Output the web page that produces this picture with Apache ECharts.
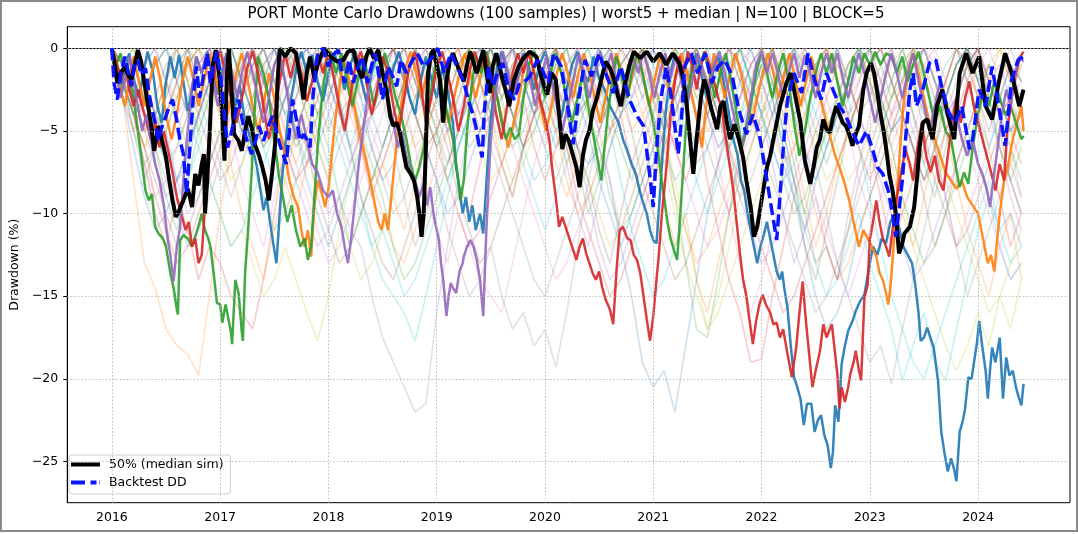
<!DOCTYPE html>
<html>
<head>
<meta charset="utf-8">
<script src="https://cdn.jsdelivr.net/npm/echarts@6/dist/echarts.min.js"></script>
<style>
html,body{margin:0;padding:0;background:#fff;}
#wrap{position:relative;width:1078px;height:534px;}
#chart{position:absolute;left:0;top:0;width:1078px;height:534px;}
#frame{position:absolute;left:0;top:0;width:1078px;height:532px;box-sizing:border-box;border:2px solid #8a8a8a;pointer-events:none;}
</style>
</head>
<body>
<div id="wrap"><div id="chart"></div><div id="frame"></div></div>
<script>
// ---------- axis ticks ----------
const yearTicks = [2016, 2017, 2018, 2019, 2020, 2021, 2022, 2023, 2024];
const ddTicks = [0, -5, -10, -15, -20, -25];

// ---------- faint sample paths (every 0.1 year from 2016.0 to 2024.4) ----------
const sampleTimes = [];
for (let i = 0; i <= 84; i++) sampleTimes.push(+(2016 + i * 0.1).toFixed(2));

const faint0 = [0,-2,-4,-3,-6,-5,-8,-7,-4,-2, -1,-3,-5,-4,-2,0,-2,-5,-7,-6, -4,-2,0,-3,-6,-8,-7,-5,-3,-1, 0,-2,-4,-6,-5,-3,-1,0,-2,-4, -3,-5,-4,-6,-7,-6,-8,-12,-15,-19, -20.5,-19.5,-22,-18,-14,-10,-7,-4,-2,0, -2,-4,-7,-9,-11,-8,-6,-4,-2,-1, 0,-3,-5,-4,-6,-8,-6,-3,-1,0, -2,-4,-3,-5,-4];
const faint1 = [0,-3,-8,-13,-14.5,-17,-18,-18.5,-19.8,-15, -10,-6,-3,-1,-3,-6,-8,-10,-7,-4, -2,0,-2,-5,-8,-7,-9,-11,-8,-5, -3,-1,0,-3,-5,-4,-7,-9,-6,-3, -1,-3,-6,-8,-5,-3,-1,-3,-5,-4, -6,-9,-12,-10,-14,-16,-13,-10,-7,-4, -2,0,-3,-6,-9,-12,-10,-7,-5,-3, -1,-4,-7,-10,-12,-9,-6,-3,-1,0, -3,-6,-9,-7,-5];
const faint2 = [0,-2,-5,-7,-6,-9,-11,-8,-5,-3, -1,0,-2,-4,-6,-5,-3,-1,-2,-4, -6,-9,-12,-10,-8,-6,-4,-2,0,-3, -5,-8,-6,-4,-2,-1,-3,-6,-5,-3, -1,0,-3,-7,-10,-8,-6,-4,-2,0, -2,-5,-9,-13,-17,-17.5,-14,-10,-6,-3, -1,-3,-6,-8,-10,-7,-5,-3,-1,0, -2,-5,-3,-1,-4,-7,-9,-6,-3,-1, 0,-3,-6,-8,-6];
const faint3 = [0,-2,-4,-7,-10,-12,-9,-11,-14,-12, -13,-15,-16,-17,-14,-10,-6,-3,-1,0, -2,-4,-3,-6,-9,-7,-5,-3,-1,0, -2,-5,-8,-10,-7,-4,-2,0,-3,-6, -8,-6,-4,-2,-1,-3,-5,-4,-7,-9, -7,-5,-3,-1,-4,-8,-11,-14,-16,-19, -18.8,-15,-12,-9,-7,-5,-3,-1,-2,-4, -6,-9,-12,-10,-8,-6,-4,-2,0,-2, -4,-7,-9,-12,-10];
const faint4 = [0,-1,-3,-5,-7,-9,-8,-6,-4,-2, -1,-3,-5,-4,-2,0,-2,-4,-6,-8, -10,-9,-11,-12,-15,-17.5,-19,-20.5,-22,-21.5, -16,-12,-8,-5,-3,-1,0,-2,-4,-3, -1,-4,-7,-10,-12,-9,-6,-4,-2,0, -2,-4,-3,-5,-7,-6,-4,-2,0,-2, -4,-7,-10,-13,-11,-9,-12,-14,-10,-7, -4,-2,0,-3,-5,-7,-5,-3,-1,0, -2,-4,-6,-9,-11];
const faint5 = [0,-2,-4,-6,-8,-10,-12,-11,-9,-7, -5,-3,-1,0,-2,-4,-6,-5,-3,-1, 0,-3,-6,-9,-11,-13,-14,-12,-10,-7, -5,-3,-1,0,-2,-5,-7,-9,-6,-4, -2,0,-3,-6,-8,-11,-13,-10,-7,-5, -3,-1,0,-2,-4,-6,-8,-10,-8,-6, -4,-2,-5,-8,-12,-14,-11,-8,-5,-3, -1,0,-2,-4,-6,-9,-12,-10,-7,-5, -3,-1,-3,-5,-7];
const faint6 = [0,-1,-3,-2,-4,-6,-5,-3,-1,0, -2,-5,-8,-10,-12,-9,-6,-3,-1,0, -2,-4,-6,-5,-3,-1,0,-3,-6,-9, -11,-13,-10,-12,-14,-15,-16,-13,-10,-7, -5,-3,-1,0,-2,-5,-8,-11,-9,-7, -5,-3,-1,0,-2,-4,-7,-10,-13,-16, -14,-11,-8,-6,-4,-2,0,-2,-5,-8, -10,-12,-9,-7,-5,-3,-6,-9,-12,-10, -8,-6,-4,-6,-9];
const faint7 = [0,-2,-5,-8,-6,-4,-2,0,-3,-5, -7,-9,-7,-5,-3,-1,0,-2,-4,-6, -8,-6,-4,-2,0,-3,-6,-9,-12,-10, -8,-11,-13,-15,-14,-12,-15,-17,-16,-18, -17,-19.3,-16,-12,-8,-5,-3,-1,0,-2, -4,-7,-5,-3,-1,0,-3,-6,-9,-8, -6,-4,-2,0,-3,-7,-10,-13,-15,-17, -19,-18,-20.3,-17,-14,-11,-8,-5,-3,-1, 0,-3,-6,-8,-10];
const faint8 = [0,-1,-3,-5,-4,-2,0,-2,-5,-8, -10,-12,-11,-13,-15,-14,-12,-14,-16,-17.7, -15,-11,-8,-5,-3,-1,0,-2,-4,-6, -5,-3,-1,0,-2,-4,-6,-8,-7,-5, -3,-1,0,-2,-4,-6,-5,-3,-1,0, -2,-5,-8,-11,-14,-17,-15,-12,-9,-6, -4,-2,0,-2,-4,-6,-8,-7,-5,-3, -1,-3,-6,-9,-12,-14,-16,-18,-19.5,-18, -16,-18,-15,-17,-14];
const faint9 = [0,-2,-4,-3,-5,-7,-9,-8,-6,-4, -2,0,-2,-4,-6,-8,-7,-5,-3,-1, 0,-3,-6,-9,-12,-14,-15,-16,-17.7,-15, -12,-9,-6,-4,-2,0,-2,-4,-7,-9, -11,-9,-7,-5,-3,-1,0,-2,-4,-3, -1,0,-3,-6,-8,-10,-8,-6,-4,-2, 0,-2,-5,-8,-11,-13,-15,-14,-12,-10, -13,-15,-17,-20.1,-18,-16,-19,-20.1,-17,-14, -11,-9,-12,-14,-13];
const faint10 = [0,-3,-6,-9,-11,-10,-8,-6,-4,-2, 0,-2,-4,-3,-1,0,-2,-5,-8,-10, -12,-10,-8,-6,-4,-2,0,-2,-4,-6, -8,-10,-9,-7,-5,-3,-1,0,-2,-4, -3,-1,0,-3,-5,-8,-10,-12,-10,-8, -6,-4,-2,0,-2,-4,-6,-5,-3,-1, 0,-3,-6,-9,-12,-15,-17,-16,-14,-11, -9,-7,-5,-3,-1,0,-2,-4,-3,-5, -7,-9,-11,-10,-12];
const faint11 = [0,-1,-2,-4,-6,-5,-3,-1,0,-2, -4,-7,-10,-12,-14,-11,-8,-5,-3,-1, 0,-2,-4,-6,-8,-10,-12,-13,-11,-9, -7,-5,-3,-1,0,-2,-4,-3,-1,0, -2,-5,-8,-10,-9,-7,-5,-3,-1,0, -3,-6,-9,-11,-13,-12,-10,-8,-6,-4, -2,0,-2,-4,-7,-10,-12,-14,-13,-11, -9,-7,-5,-3,-1,0,-2,-5,-8,-11, -13,-15,-12,-10,-14];
const faint12 = [0,-2,-1,-3,-5,-7,-6,-4,-2,0, -1,-3,-5,-7,-9,-11,-10,-8,-6,-4, -2,0,-2,-5,-7,-9,-12,-14,-13,-11, -9,-7,-5,-3,-1,0,-2,-4,-6,-5, -3,-1,0,-2,-4,-6,-9,-11,-10,-8, -6,-4,-2,0,-2,-4,-3,-1,0,-2, -4,-6,-8,-10,-9,-7,-5,-3,-1,0, -2,-4,-6,-9,-11,-13,-12,-10,-8,-6, -4,-2,-4,-6,-8];
const faint13 = [0,-2,-4,-6,-9,-11,-13,-12,-10,-8, -6,-4,-2,0,-2,-4,-6,-8,-7,-5, -3,-1,0,-2,-4,-3,-1,0,-2,-4, -6,-8,-10,-12,-11,-9,-7,-5,-3,-1, 0,-3,-6,-9,-11,-13,-15,-14,-12,-10, -8,-6,-4,-2,0,-2,-4,-6,-8,-10, -12,-14,-16,-15,-13,-11,-9,-7,-5,-3, -1,0,-2,-4,-6,-8,-7,-5,-3,-1, 0,-2,-4,-3,-5];
const faint14 = [0,-1,-3,-2,-4,-6,-8,-10,-9,-7, -5,-3,-1,0,-2,-4,-6,-8,-10,-12, -11,-9,-7,-5,-3,-1,0,-2,-4,-6, -8,-7,-5,-3,-1,0,-2,-4,-3,-1, 0,-2,-4,-6,-9,-12,-14,-13,-11,-9, -7,-5,-3,-1,0,-2,-4,-7,-9,-11, -13,-12,-10,-8,-6,-4,-2,0,-2,-4, -6,-8,-10,-12,-14,-13,-11,-9,-7,-5, -3,-1,-3,-5,-4];
const faint15 = [0,-2,-3,-5,-4,-2,0,-2,-4,-6, -8,-7,-5,-3,-1,0,-2,-4,-6,-9, -11,-13,-12,-10,-8,-6,-4,-2,0,-2, -4,-6,-9,-11,-13,-12,-10,-8,-6,-4, -2,0,-2,-4,-3,-1,0,-2,-5,-8, -10,-12,-14,-13,-11,-9,-7,-5,-3,-1, 0,-2,-4,-7,-10,-13,-12,-14,-11,-8, -6,-4,-2,0,-2,-5,-8,-10,-12,-11, -9,-7,-5,-8,-10];
const faint16 = [0,-2,-4,-7,-9,-8,-6,-4,-2,0, -2,-4,-3,-1,0,-2,-5,-7,-9,-11, -13,-12,-10,-8,-6,-4,-2,0,-2,-4, -6,-5,-3,-1,0,-2,-4,-6,-8,-10, -12,-14,-13,-11,-9,-7,-5,-3,-1,0, -2,-4,-6,-8,-10,-12,-11,-9,-7,-5, -3,-1,0,-3,-6,-9,-11,-13,-15,-13, -11,-9,-7,-5,-3,-1,0,-2,-4,-6, -8,-10,-12,-14,-13];
const faint17 = [0,-1,-2,-4,-6,-8,-10,-12,-11,-9, -7,-5,-3,-1,0,-2,-4,-6,-5,-3, -1,0,-2,-4,-6,-8,-10,-9,-7,-5, -3,-1,0,-2,-4,-6,-8,-10,-12,-14, -15,-13,-11,-9,-7,-5,-3,-1,0,-2, -4,-6,-8,-7,-5,-3,-1,0,-2,-4, -6,-8,-10,-12,-14,-16,-15,-13,-11,-9, -7,-5,-3,-1,0,-3,-6,-9,-12,-15, -13,-11,-9,-7,-9];
const faint18 = [0,-2,-4,-6,-5,-3,-1,0,-2,-4, -6,-8,-7,-5,-3,-1,0,-2,-4,-6, -8,-10,-12,-14,-13,-11,-9,-7,-5,-3, -1,0,-2,-4,-6,-8,-7,-5,-3,-1, 0,-2,-4,-6,-8,-10,-12,-11,-9,-7, -5,-7,-10,-13,-15,-17,-16,-14,-12,-10, -8,-6,-4,-2,0,-2,-4,-6,-8,-7, -5,-3,-1,0,-2,-4,-6,-8,-10,-12, -14,-16,-15,-13,-11];
const faint19 = [0,-2,-4,-3,-1,0,-2,-4,-6,-8, -10,-12,-11,-9,-7,-5,-3,-1,0,-2, -4,-6,-8,-10,-12,-11,-13,-15,-14,-12, -10,-8,-6,-4,-2,0,-2,-4,-6,-8, -7,-5,-3,-1,0,-2,-5,-8,-11,-13, -15,-14,-12,-10,-8,-6,-4,-2,0,-2, -4,-6,-8,-7,-5,-3,-1,0,-3,-6, -9,-12,-15,-17,-19,-20,-18,-16,-14,-12, -10,-8,-11,-13,-12];
const faint20 = [0,-1,-3,-2,-4,-3,-1,0,-2,-3, -1,0,-2,-4,-3,-5,-3,-1,0,-2, -3,-1,0,-2,-4,-6,-4,-2,0,-1, -3,-5,-4,-2,0,-1,-3,-2,0,-2, -4,-6,-5,-3,-1,0,-2,-4,-3,-1, 0,-2,-3,-1,0,-2,-4,-6,-5,-3, -1,0,-2,-4,-6,-8,-6,-4,-2,0, -1,-3,-5,-4,-2,0,-2,-3,-1,0, -2,-4,-3,-1,-2];
const faint21 = [0,-2,-4,-6,-4,-2,-3,-1,0,-2, -4,-3,-1,0,-1,-3,-5,-7,-5,-3, -1,0,-2,-3,-1,0,-2,-4,-6,-5, -3,-1,0,-2,-4,-3,-1,0,-1,-3, -5,-7,-9,-7,-5,-3,-1,0,-2,-4, -3,-1,0,-1,-3,-5,-4,-2,0,-1, -3,-5,-7,-6,-4,-2,0,-1,-3,-2, 0,-2,-4,-6,-8,-6,-4,-2,0,-1, -3,-2,0,-2,-4];
const faint22 = [0,-1,0,-2,-4,-5,-3,-1,0,-1, -3,-2,0,-2,-3,-1,0,-1,-3,-5, -7,-5,-3,-1,0,-2,-1,0,-2,-4, -6,-4,-2,0,-1,-3,-5,-3,-1,0, -2,-4,-3,-1,0,-2,-4,-6,-8,-6, -4,-2,0,-1,-3,-2,0,-2,-4,-3, -1,0,-2,-4,-3,-5,-7,-5,-3,-1, 0,-1,-3,-2,0,-2,-4,-3,-1,0, -2,-1,-3,-5,-3];
const faint23 = [0,-3,-5,-3,-1,0,-2,-4,-3,-1, 0,-2,-4,-6,-5,-3,-1,0,-2,-1, 0,-1,-3,-5,-4,-2,0,-1,-3,-2, 0,-2,-4,-3,-1,0,-2,-4,-6,-4, -2,0,-1,-3,-2,0,-2,-3,-1,0, -2,-4,-6,-8,-6,-4,-2,0,-1,-3, -2,0,-2,-4,-3,-1,0,-2,-4,-6, -8,-6,-4,-2,0,-1,-3,-5,-4,-2, 0,-2,-4,-3,-1];
const faint24 = [0,-1,-2,-1,0,-2,-4,-3,-1,0, -1,-3,-2,0,-2,-4,-3,-1,0,-1, -3,-5,-7,-5,-3,-1,0,-2,-4,-3, -1,0,-1,-3,-5,-4,-2,0,-1,-2, 0,-2,-4,-6,-4,-2,0,-1,-3,-2, 0,-2,-3,-1,0,-2,-4,-3,-1,0, -2,-4,-3,-1,0,-1,-3,-5,-4,-2, 0,-2,-4,-3,-1,0,-2,-4,-3,-1, 0,-2,-1,-3,-2];
const faint25 = [0,-2,-1,-3,-5,-4,-2,0,-1,-3, -2,0,-2,-4,-6,-4,-2,0,-1,-3, -5,-3,-1,0,-2,-1,0,-2,-4,-6, -5,-3,-1,0,-2,-4,-3,-1,0,-2, -1,0,-2,-4,-3,-5,-3,-1,0,-1, -3,-5,-4,-2,0,-2,-1,0,-2,-4, -6,-4,-2,0,-1,-3,-2,0,-2,-4, -3,-1,0,-2,-4,-6,-4,-2,0,-1, -3,-5,-3,-1,-2];
const faint26 = [0,-1,-3,-5,-3,-1,0,-2,-1,0, -2,-4,-3,-1,0,-2,-4,-2,0,-1, -2,0,-1,-3,-5,-7,-5,-3,-1,0, -2,-1,0,-2,-4,-3,-1,0,-2,-4, -6,-4,-2,0,-1,-3,-2,0,-1,-3, -5,-3,-1,0,-2,-4,-6,-5,-3,-1, 0,-1,-3,-2,0,-2,-4,-3,-1,0, -2,-4,-6,-4,-2,0,-1,-3,-5,-3, -1,0,-2,-1,-3];
const faint27 = [0,-2,-3,-1,0,-2,-4,-6,-4,-2, 0,-1,-3,-2,0,-2,-1,0,-2,-4, -3,-1,0,-2,-4,-3,-1,0,-1,-3, -5,-7,-5,-3,-1,0,-2,-1,0,-2, -4,-3,-1,0,-2,-4,-2,0,-1,-3, -2,0,-2,-4,-6,-4,-2,0,-1,-3, -5,-3,-1,0,-2,-1,0,-2,-4,-3, -1,0,-2,-4,-6,-8,-6,-4,-2,0, -1,-3,-2,0,-2];
const faint28 = [0,-1,0,-2,-3,-1,0,-2,-4,-3, -1,0,-2,-1,0,-2,-4,-6,-4,-2, 0,-2,-3,-1,0,-1,-3,-5,-3,-1, 0,-2,-1,0,-2,-4,-3,-1,0,-1, -3,-5,-7,-5,-3,-1,0,-2,-1,0, -2,-4,-3,-1,0,-2,-4,-6,-4,-2, 0,-1,-3,-5,-3,-1,0,-2,-1,0, -2,-4,-3,-1,0,-2,-3,-5,-7,-5, -3,-1,0,-2,-3];
const faint29 = [0,-2,-4,-3,-1,0,-1,-3,-5,-3, -1,0,-2,-1,0,-2,-4,-3,-1,0, -2,-4,-6,-4,-2,0,-1,-3,-2,0, -2,-4,-3,-1,0,-2,-1,0,-2,-4, -6,-8,-6,-4,-2,0,-1,-3,-2,0, -1,-3,-5,-3,-1,0,-2,-1,0,-2, -4,-3,-1,0,-2,-4,-6,-4,-2,0, -1,-3,-2,0,-2,-4,-3,-1,0,-2, -4,-6,-4,-2,-1];

const faintSeries = [faint0,faint1,faint2,faint3,faint4,faint5,faint6,faint7,faint8,faint9,
                     faint10,faint11,faint12,faint13,faint14,faint15,faint16,faint17,faint18,faint19,
                     faint20,faint21,faint22,faint23,faint24,faint25,faint26,faint27,faint28,faint29];

// ---------- worst-5 paths [year, drawdown %] ----------
const worstBlue = [[2016.00,0],[2016.04,-1.0],[2016.08,-2.5],[2016.12,-1.2],[2016.16,-0.3],[2016.20,-1.8],[2016.25,-3.0],[2016.29,-1.5],[2016.33,-0.2],[2016.38,-1.5],[2016.42,-3.5],[2016.46,-4.5],[2016.50,-2.0],[2016.54,-0.5],[2016.58,-1.8],[2016.62,-0.4],[2016.66,-2.0],[2016.70,-3.8],[2016.74,-2.5],[2016.78,-0.5],[2016.83,-1.5],[2016.88,-0.2],[2016.93,-1.2],[2016.98,-2.8],[2017.02,-1.5],[2017.06,-0.3],[2017.10,-2.0],[2017.14,-3.5],[2017.18,-2.2],[2017.22,-4.0],[2017.26,-5.0],[2017.30,-6.0],[2017.34,-7.2],[2017.37,-8.5],[2017.40,-9.8],[2017.43,-9.0],[2017.46,-10.5],[2017.49,-11.8],[2017.52,-13.0],[2017.54,-11.0],[2017.57,-8.0],[2017.60,-6.0],[2017.63,-4.0],[2017.67,-2.5],[2017.71,-1.0],[2017.75,-0.2],[2017.80,-1.5],[2017.85,-0.4],[2017.90,-2.0],[2017.95,-3.2],[2018.00,-1.5],[2018.05,-0.3],[2018.10,-1.2],[2018.15,-2.5],[2018.20,-1.0],[2018.25,-0.2],[2018.30,-1.8],[2018.35,-3.2],[2018.40,-1.5],[2018.45,-0.3],[2018.50,-1.4],[2018.55,-2.8],[2018.60,-1.2],[2018.65,-0.2],[2018.70,-1.5],[2018.75,-3.0],[2018.80,-4.0],[2018.85,-2.0],[2018.90,-0.5],[2018.95,-1.8],[2019.00,-3.0],[2019.05,-1.2],[2019.10,-2.5],[2019.15,-4.5],[2019.18,-7.2],[2019.21,-8.5],[2019.24,-10.0],[2019.27,-9.0],[2019.30,-10.5],[2019.33,-9.5],[2019.36,-11.0],[2019.40,-10.0],[2019.43,-11.2],[2019.46,-8.0],[2019.49,-5.0],[2019.52,-3.0],[2019.56,-1.0],[2019.60,-0.2],[2019.65,-1.5],[2019.70,-3.0],[2019.75,-1.5],[2019.80,-0.3],[2019.85,-1.2],[2019.90,-2.5],[2019.95,-1.0],[2020.00,-0.2],[2020.05,-1.5],[2020.10,-3.0],[2020.15,-4.2],[2020.20,-2.5],[2020.25,-1.0],[2020.30,-0.2],[2020.35,-1.5],[2020.40,-2.0],[2020.45,-0.5],[2020.50,-1.8],[2020.55,-2.5],[2020.60,-3.5],[2020.64,-4.0],[2020.68,-4.5],[2020.72,-5.5],[2020.76,-6.2],[2020.80,-7.0],[2020.84,-7.6],[2020.87,-8.5],[2020.90,-9.2],[2020.94,-10.0],[2020.97,-11.0],[2021.00,-11.6],[2021.03,-11.8],[2021.06,-9.0],[2021.09,-6.0],[2021.12,-3.5],[2021.16,-1.5],[2021.20,-0.3],[2021.25,-1.5],[2021.30,-3.0],[2021.35,-1.5],[2021.40,-0.3],[2021.45,-1.8],[2021.50,-3.2],[2021.55,-1.5],[2021.60,-0.5],[2021.65,-2.0],[2021.70,-4.0],[2021.74,-5.5],[2021.78,-6.5],[2021.81,-8.0],[2021.84,-8.6],[2021.87,-10.0],[2021.90,-11.0],[2021.93,-12.0],[2021.96,-13.0],[2021.99,-12.0],[2022.02,-11.3],[2022.05,-10.5],[2022.08,-11.5],[2022.11,-12.5],[2022.14,-13.5],[2022.17,-14.0],[2022.19,-13.5],[2022.21,-14.5],[2022.24,-15.7],[2022.27,-18.0],[2022.30,-19.9],[2022.33,-20.5],[2022.36,-21.2],[2022.39,-22.8],[2022.42,-21.5],[2022.46,-21.5],[2022.49,-23.2],[2022.52,-22.5],[2022.55,-22.2],[2022.58,-23.4],[2022.61,-24.0],[2022.64,-25.4],[2022.66,-24.4],[2022.68,-21.6],[2022.71,-22.6],[2022.74,-19.1],[2022.77,-18.0],[2022.80,-17.1],[2022.84,-16.5],[2022.87,-15.9],[2022.91,-15.3],[2022.95,-14.9],[2023.00,-13.0],[2023.03,-12.0],[2023.07,-12.5],[2023.11,-11.5],[2023.15,-11.8],[2023.19,-10.5],[2023.23,-10.0],[2023.27,-10.8],[2023.31,-12.0],[2023.35,-12.5],[2023.39,-13.0],[2023.42,-14.3],[2023.45,-16.0],[2023.47,-17.7],[2023.50,-17.5],[2023.53,-16.9],[2023.56,-17.5],[2023.59,-18.1],[2023.63,-20.1],[2023.66,-23.2],[2023.69,-24.5],[2023.72,-25.6],[2023.75,-24.8],[2023.78,-25.5],[2023.80,-26.2],[2023.83,-23.2],[2023.86,-22.5],[2023.88,-21.8],[2023.91,-19.9],[2023.94,-20.0],[2023.96,-19.1],[2023.99,-17.8],[2024.01,-16.5],[2024.04,-18.1],[2024.07,-19.5],[2024.09,-21.2],[2024.11,-19.5],[2024.13,-18.1],[2024.16,-19.0],[2024.20,-17.5],[2024.23,-21.2],[2024.26,-18.7],[2024.29,-19.8],[2024.32,-19.5],[2024.35,-20.5],[2024.37,-21.0],[2024.40,-21.6],[2024.42,-20.3]];

const worstOrange = [[2016.00,0],[2016.04,-1.2],[2016.08,-2.5],[2016.12,-3.5],[2016.16,-2.0],[2016.20,-0.5],[2016.25,-2.0],[2016.30,-3.5],[2016.35,-2.0],[2016.40,-0.5],[2016.45,-2.0],[2016.50,-4.0],[2016.55,-5.5],[2016.60,-4.0],[2016.65,-2.0],[2016.70,-0.5],[2016.75,-1.8],[2016.80,-3.5],[2016.85,-2.0],[2016.90,-0.3],[2016.95,-1.5],[2017.00,-3.0],[2017.05,-4.5],[2017.10,-3.0],[2017.15,-1.5],[2017.20,-0.3],[2017.25,-1.8],[2017.30,-3.5],[2017.35,-5.0],[2017.40,-3.5],[2017.45,-1.5],[2017.50,-3.0],[2017.55,-5.0],[2017.60,-6.5],[2017.64,-8.0],[2017.68,-9.0],[2017.72,-9.6],[2017.75,-11.0],[2017.78,-12.0],[2017.81,-11.0],[2017.84,-12.6],[2017.87,-9.5],[2017.90,-8.0],[2017.94,-8.8],[2017.97,-9.6],[2018.00,-8.5],[2018.03,-6.5],[2018.06,-4.5],[2018.10,-2.5],[2018.14,-0.5],[2018.19,-2.0],[2018.24,-3.5],[2018.28,-5.0],[2018.32,-6.0],[2018.36,-7.2],[2018.40,-8.5],[2018.43,-9.5],[2018.46,-10.5],[2018.49,-11.0],[2018.52,-10.0],[2018.55,-11.0],[2018.58,-9.0],[2018.61,-7.0],[2018.64,-5.0],[2018.68,-3.0],[2018.72,-1.0],[2018.76,-0.2],[2018.81,-1.5],[2018.86,-3.0],[2018.91,-1.5],[2018.96,-0.3],[2019.01,-1.5],[2019.06,-3.0],[2019.11,-4.5],[2019.16,-3.0],[2019.21,-1.5],[2019.26,-0.3],[2019.31,-1.5],[2019.36,-3.0],[2019.41,-1.5],[2019.46,-0.2],[2019.51,-1.5],[2019.56,-3.0],[2019.61,-4.5],[2019.66,-6.0],[2019.71,-4.5],[2019.76,-3.0],[2019.81,-1.0],[2019.86,-0.2],[2019.91,-1.8],[2019.96,-3.5],[2020.01,-5.0],[2020.06,-3.5],[2020.11,-1.5],[2020.16,-0.3],[2020.21,-1.5],[2020.26,-3.0],[2020.31,-1.5],[2020.36,-0.3],[2020.41,-1.5],[2020.46,-3.0],[2020.51,-4.5],[2020.56,-3.0],[2020.61,-1.5],[2020.66,-0.3],[2020.71,-1.5],[2020.76,-3.0],[2020.81,-1.5],[2020.86,-0.3],[2020.91,-1.8],[2020.96,-3.5],[2021.01,-2.0],[2021.06,-0.5],[2021.11,-1.5],[2021.16,-3.0],[2021.21,-1.5],[2021.26,-0.3],[2021.31,-1.5],[2021.36,-3.0],[2021.41,-4.5],[2021.45,-6.0],[2021.48,-4.0],[2021.52,-2.0],[2021.56,-0.3],[2021.61,-1.5],[2021.66,-3.0],[2021.71,-1.5],[2021.76,-0.3],[2021.81,-1.5],[2021.86,-3.0],[2021.91,-4.5],[2021.96,-3.0],[2022.01,-1.5],[2022.06,-0.3],[2022.11,-1.5],[2022.16,-3.0],[2022.21,-1.5],[2022.26,-0.3],[2022.31,-1.8],[2022.36,-3.5],[2022.41,-2.0],[2022.46,-0.5],[2022.51,-2.0],[2022.56,-3.5],[2022.60,-4.5],[2022.64,-5.5],[2022.68,-6.5],[2022.72,-7.2],[2022.76,-8.0],[2022.81,-9.2],[2022.85,-10.5],[2022.90,-12.0],[2022.94,-11.0],[2022.98,-11.5],[2023.02,-12.0],[2023.06,-12.6],[2023.09,-13.6],[2023.12,-14.0],[2023.15,-14.8],[2023.17,-15.5],[2023.19,-14.5],[2023.22,-12.0],[2023.25,-9.0],[2023.28,-6.0],[2023.31,-3.5],[2023.35,-1.5],[2023.40,-0.3],[2023.45,-1.5],[2023.50,-3.0],[2023.55,-4.5],[2023.60,-5.5],[2023.65,-6.5],[2023.70,-7.5],[2023.75,-8.0],[2023.80,-8.5],[2023.85,-8.0],[2023.90,-9.0],[2023.95,-9.5],[2024.00,-10.0],[2024.03,-11.0],[2024.06,-12.0],[2024.09,-13.0],[2024.12,-12.5],[2024.15,-13.5],[2024.17,-12.0],[2024.20,-10.0],[2024.24,-8.0],[2024.28,-7.0],[2024.32,-5.5],[2024.36,-4.5],[2024.40,-3.5],[2024.42,-5.0]];

const worstGreen = [[2016.00,0],[2016.04,-1.0],[2016.08,-0.3],[2016.12,-1.5],[2016.16,-2.0],[2016.19,-2.5],[2016.22,-4.0],[2016.25,-5.5],[2016.28,-7.0],[2016.31,-8.6],[2016.34,-9.2],[2016.37,-8.8],[2016.40,-10.8],[2016.43,-11.2],[2016.47,-11.5],[2016.50,-12.0],[2016.52,-12.8],[2016.54,-13.6],[2016.57,-14.5],[2016.60,-15.8],[2016.61,-16.1],[2016.63,-11.6],[2016.66,-11.3],[2016.70,-11.5],[2016.74,-12.0],[2016.78,-11.2],[2016.81,-10.5],[2016.83,-10.0],[2016.86,-11.0],[2016.89,-11.5],[2016.91,-12.0],[2016.94,-13.6],[2016.97,-15.4],[2017.00,-15.5],[2017.02,-16.6],[2017.05,-15.5],[2017.08,-16.5],[2017.10,-17.2],[2017.11,-17.9],[2017.14,-14.0],[2017.17,-14.8],[2017.20,-17.2],[2017.21,-17.7],[2017.23,-13.6],[2017.26,-10.8],[2017.29,-7.6],[2017.32,-3.5],[2017.35,-0.5],[2017.40,-1.5],[2017.45,-3.0],[2017.50,-5.5],[2017.54,-7.6],[2017.58,-9.0],[2017.62,-10.5],[2017.66,-9.5],[2017.70,-11.0],[2017.74,-12.0],[2017.78,-11.5],[2017.81,-12.8],[2017.84,-12.0],[2017.87,-9.0],[2017.90,-6.0],[2017.94,-3.0],[2017.98,-1.0],[2018.02,-0.2],[2018.07,-1.5],[2018.12,-0.3],[2018.17,-2.0],[2018.22,-3.5],[2018.27,-2.0],[2018.32,-0.5],[2018.37,-1.8],[2018.42,-3.5],[2018.47,-2.0],[2018.52,-0.3],[2018.57,-1.5],[2018.62,-3.0],[2018.67,-4.0],[2018.72,-5.5],[2018.76,-7.0],[2018.80,-8.0],[2018.84,-7.2],[2018.88,-6.0],[2018.92,-4.0],[2018.96,-2.0],[2019.00,-0.5],[2019.05,-2.5],[2019.10,-4.0],[2019.15,-5.5],[2019.19,-7.5],[2019.22,-9.2],[2019.25,-8.0],[2019.28,-5.0],[2019.32,-2.5],[2019.36,-0.5],[2019.41,-1.5],[2019.46,-0.2],[2019.51,-1.8],[2019.56,-3.0],[2019.60,-4.5],[2019.64,-5.5],[2019.68,-4.8],[2019.72,-5.5],[2019.76,-5.2],[2019.80,-3.0],[2019.85,-1.0],[2019.90,-0.2],[2019.95,-1.5],[2020.00,-3.0],[2020.05,-1.5],[2020.10,-0.3],[2020.15,-1.5],[2020.20,-3.0],[2020.25,-4.5],[2020.30,-3.0],[2020.35,-1.5],[2020.40,-3.5],[2020.44,-5.0],[2020.48,-6.5],[2020.52,-8.0],[2020.55,-6.0],[2020.58,-4.0],[2020.62,-2.0],[2020.66,-0.5],[2020.71,-1.8],[2020.76,-3.0],[2020.80,-1.5],[2020.85,-0.3],[2020.90,-1.5],[2020.95,-3.0],[2021.00,-4.5],[2021.04,-6.0],[2021.07,-7.6],[2021.10,-9.0],[2021.13,-10.5],[2021.16,-11.5],[2021.19,-12.2],[2021.22,-12.8],[2021.24,-11.0],[2021.27,-8.0],[2021.30,-5.0],[2021.33,-2.5],[2021.37,-0.5],[2021.42,-1.5],[2021.47,-0.2],[2021.52,-1.5],[2021.57,-3.0],[2021.62,-1.5],[2021.67,-0.3],[2021.72,-2.0],[2021.77,-4.0],[2021.82,-6.0],[2021.86,-5.0],[2021.90,-3.5],[2021.95,-1.5],[2022.00,-0.3],[2022.05,-1.5],[2022.10,-3.0],[2022.15,-1.5],[2022.20,-0.3],[2022.25,-2.0],[2022.30,-4.5],[2022.35,-6.5],[2022.40,-5.0],[2022.45,-3.0],[2022.50,-1.5],[2022.55,-0.3],[2022.60,-1.5],[2022.65,-0.3],[2022.70,-2.0],[2022.75,-3.5],[2022.80,-2.0],[2022.85,-0.5],[2022.90,-1.5],[2022.95,-0.3],[2023.00,-1.0],[2023.05,-0.2],[2023.10,-1.0],[2023.15,-0.3],[2023.20,-0.5],[2023.25,-1.5],[2023.30,-0.5],[2023.35,-2.0],[2023.40,-1.0],[2023.45,-0.2],[2023.50,-1.5],[2023.55,-3.0],[2023.60,-4.5],[2023.65,-3.5],[2023.70,-5.0],[2023.75,-5.5],[2023.79,-7.0],[2023.83,-8.4],[2023.87,-7.5],[2023.91,-8.2],[2023.95,-6.0],[2024.00,-4.0],[2024.05,-2.5],[2024.10,-3.5],[2024.15,-2.0],[2024.20,-3.0],[2024.25,-4.0],[2024.30,-3.5],[2024.35,-4.5],[2024.40,-5.5],[2024.42,-5.3]];

const worstRed = [[2016.00,0],[2016.04,-0.8],[2016.08,-2.0],[2016.12,-1.0],[2016.16,-2.5],[2016.20,-3.5],[2016.24,-2.5],[2016.28,-3.5],[2016.32,-4.5],[2016.36,-5.5],[2016.40,-4.5],[2016.44,-6.0],[2016.48,-5.0],[2016.52,-6.2],[2016.56,-7.5],[2016.60,-9.0],[2016.64,-10.0],[2016.68,-11.0],[2016.71,-10.5],[2016.74,-12.0],[2016.77,-11.5],[2016.80,-13.0],[2016.83,-12.5],[2016.86,-9.5],[2016.89,-6.0],[2016.92,-3.0],[2016.96,-1.0],[2017.00,-0.2],[2017.05,-1.5],[2017.10,-3.0],[2017.15,-4.5],[2017.20,-3.0],[2017.25,-1.2],[2017.30,-0.2],[2017.35,-1.5],[2017.40,-3.5],[2017.45,-5.5],[2017.50,-4.0],[2017.55,-2.0],[2017.60,-0.3],[2017.65,-1.8],[2017.70,-0.4],[2017.75,-1.5],[2017.80,-3.2],[2017.85,-2.0],[2017.90,-0.3],[2017.95,-1.5],[2018.00,-0.2],[2018.05,-1.8],[2018.10,-3.5],[2018.15,-5.0],[2018.20,-3.0],[2018.25,-1.0],[2018.30,-0.2],[2018.35,-2.0],[2018.40,-4.0],[2018.45,-2.5],[2018.50,-0.5],[2018.55,-1.5],[2018.60,-3.5],[2018.65,-5.0],[2018.70,-3.0],[2018.75,-1.0],[2018.80,-0.2],[2018.85,-2.0],[2018.90,-4.5],[2018.95,-3.0],[2019.00,-1.2],[2019.05,-0.2],[2019.10,-1.5],[2019.15,-3.0],[2019.20,-5.0],[2019.25,-3.5],[2019.30,-1.5],[2019.35,-0.2],[2019.40,-1.2],[2019.45,-0.3],[2019.50,-2.0],[2019.55,-4.0],[2019.60,-5.5],[2019.65,-3.5],[2019.70,-1.5],[2019.75,-0.3],[2019.80,-1.5],[2019.85,-0.2],[2019.90,-1.5],[2019.95,-3.0],[2020.00,-4.2],[2020.04,-5.5],[2020.07,-7.5],[2020.10,-9.0],[2020.13,-10.8],[2020.16,-10.2],[2020.20,-11.0],[2020.23,-11.6],[2020.26,-12.2],[2020.29,-12.8],[2020.32,-12.0],[2020.35,-11.5],[2020.38,-12.4],[2020.41,-13.0],[2020.44,-13.6],[2020.47,-14.0],[2020.50,-13.5],[2020.53,-14.5],[2020.56,-15.2],[2020.60,-15.8],[2020.63,-16.7],[2020.66,-13.5],[2020.69,-11.0],[2020.72,-10.8],[2020.76,-11.5],[2020.79,-11.6],[2020.82,-12.5],[2020.85,-12.8],[2020.88,-13.6],[2020.91,-15.0],[2020.94,-16.4],[2020.97,-17.7],[2021.00,-16.2],[2021.03,-14.0],[2021.05,-12.6],[2021.08,-10.0],[2021.11,-8.0],[2021.13,-6.6],[2021.16,-4.0],[2021.20,-2.0],[2021.24,-0.5],[2021.28,-1.5],[2021.32,-0.2],[2021.36,-1.0],[2021.40,-2.5],[2021.44,-1.0],[2021.48,-0.2],[2021.52,-1.0],[2021.56,-2.0],[2021.60,-3.0],[2021.63,-3.5],[2021.66,-5.0],[2021.70,-6.8],[2021.74,-8.6],[2021.77,-10.5],[2021.80,-12.4],[2021.83,-14.0],[2021.86,-15.0],[2021.89,-16.5],[2021.92,-17.9],[2021.95,-16.5],[2021.98,-15.5],[2022.01,-14.9],[2022.04,-15.5],[2022.08,-16.0],[2022.11,-16.7],[2022.14,-16.6],[2022.17,-17.5],[2022.20,-17.0],[2022.24,-18.5],[2022.28,-19.9],[2022.32,-18.1],[2022.35,-16.0],[2022.38,-14.1],[2022.41,-16.5],[2022.44,-18.5],[2022.47,-20.5],[2022.50,-19.5],[2022.54,-18.3],[2022.57,-16.7],[2022.60,-17.5],[2022.63,-17.0],[2022.65,-16.7],[2022.68,-18.5],[2022.70,-19.7],[2022.72,-21.8],[2022.74,-20.5],[2022.77,-21.4],[2022.80,-20.5],[2022.82,-19.7],[2022.85,-19.0],[2022.87,-18.3],[2022.90,-19.5],[2022.92,-20.1],[2022.95,-15.1],[2022.98,-14.3],[2023.00,-11.6],[2023.03,-10.5],[2023.06,-9.2],[2023.09,-10.5],[2023.12,-11.5],[2023.15,-12.0],[2023.18,-12.6],[2023.21,-11.0],[2023.25,-9.0],[2023.29,-7.5],[2023.33,-6.1],[2023.37,-7.0],[2023.40,-8.0],[2023.44,-6.0],[2023.48,-4.5],[2023.52,-6.5],[2023.56,-7.5],[2023.60,-6.5],[2023.64,-8.0],[2023.68,-8.6],[2023.72,-6.5],[2023.76,-4.5],[2023.80,-3.0],[2023.84,-4.5],[2023.88,-3.0],[2023.92,-2.0],[2023.96,-3.5],[2024.00,-4.5],[2024.04,-5.5],[2024.08,-6.5],[2024.12,-7.5],[2024.16,-8.6],[2024.20,-7.0],[2024.24,-8.0],[2024.27,-5.0],[2024.31,-3.0],[2024.35,-1.5],[2024.39,-0.5],[2024.42,-0.2]];

const worstPurple = [[2016.00,0],[2016.04,-1.5],[2016.08,-3.0],[2016.12,-2.0],[2016.16,-0.5],[2016.20,-2.0],[2016.24,-3.5],[2016.28,-5.0],[2016.32,-4.0],[2016.36,-5.5],[2016.40,-7.0],[2016.44,-8.0],[2016.48,-9.5],[2016.51,-11.3],[2016.54,-12.5],[2016.57,-14.1],[2016.60,-12.0],[2016.63,-10.8],[2016.66,-8.0],[2016.70,-5.0],[2016.74,-2.5],[2016.78,-0.5],[2016.83,-1.5],[2016.88,-0.3],[2016.93,-1.8],[2016.98,-3.5],[2017.02,-2.0],[2017.06,-0.3],[2017.11,-1.5],[2017.16,-3.0],[2017.20,-1.5],[2017.25,-0.2],[2017.30,-1.5],[2017.35,-3.0],[2017.40,-4.5],[2017.45,-3.0],[2017.50,-1.0],[2017.55,-0.2],[2017.60,-2.0],[2017.65,-4.0],[2017.70,-5.5],[2017.75,-4.0],[2017.80,-5.5],[2017.85,-7.0],[2017.90,-7.5],[2017.95,-8.6],[2018.00,-9.0],[2018.04,-8.6],[2018.08,-10.0],[2018.12,-10.8],[2018.15,-12.0],[2018.18,-13.0],[2018.21,-11.5],[2018.24,-9.6],[2018.28,-7.0],[2018.32,-5.0],[2018.36,-3.0],[2018.40,-1.0],[2018.45,-0.2],[2018.50,-1.5],[2018.55,-3.0],[2018.60,-4.5],[2018.64,-6.0],[2018.68,-5.0],[2018.72,-6.5],[2018.76,-7.5],[2018.80,-8.0],[2018.84,-9.0],[2018.88,-8.2],[2018.91,-9.5],[2018.94,-8.4],[2018.97,-10.0],[2019.00,-11.0],[2019.02,-11.6],[2019.04,-13.0],[2019.06,-14.0],[2019.08,-15.5],[2019.09,-16.2],[2019.11,-15.0],[2019.13,-14.2],[2019.15,-14.5],[2019.18,-14.8],[2019.21,-13.5],[2019.24,-13.0],[2019.25,-12.6],[2019.28,-12.0],[2019.31,-11.6],[2019.34,-12.0],[2019.37,-12.8],[2019.40,-14.0],[2019.42,-15.5],[2019.43,-16.2],[2019.45,-12.5],[2019.46,-10.8],[2019.48,-8.0],[2019.50,-5.5],[2019.53,-3.5],[2019.57,-1.5],[2019.61,-0.2],[2019.66,-1.5],[2019.71,-3.0],[2019.76,-1.5],[2019.81,-0.3],[2019.86,-1.8],[2019.91,-3.5],[2019.96,-2.0],[2020.01,-0.5],[2020.06,-2.0],[2020.11,-3.5],[2020.16,-5.0],[2020.21,-3.5],[2020.26,-2.0],[2020.31,-0.3],[2020.36,-1.5],[2020.41,-3.0],[2020.46,-1.5],[2020.51,-0.2],[2020.56,-1.5],[2020.61,-0.3],[2020.66,-2.0],[2020.71,-3.5],[2020.76,-2.0],[2020.81,-0.5],[2020.86,-1.5],[2020.91,-0.2],[2020.96,-1.5],[2021.01,-3.0],[2021.06,-1.5],[2021.11,-0.3],[2021.16,-1.8],[2021.21,-0.4],[2021.26,-2.0],[2021.31,-3.5],[2021.36,-2.0],[2021.41,-0.3],[2021.46,-1.5],[2021.51,-2.5],[2021.56,-1.0],[2021.61,-0.2],[2021.66,-1.5],[2021.71,-3.0],[2021.76,-4.5],[2021.81,-6.0],[2021.85,-5.0],[2021.90,-3.0],[2021.95,-1.0],[2022.00,-0.2],[2022.05,-1.5],[2022.10,-0.3],[2022.15,-1.5],[2022.20,-3.0],[2022.25,-1.5],[2022.30,-0.3],[2022.35,-1.8],[2022.40,-0.4],[2022.45,-1.5],[2022.50,-3.0],[2022.55,-1.5],[2022.60,-0.3],[2022.65,-1.5],[2022.70,-0.3],[2022.75,-1.8],[2022.80,-3.0],[2022.85,-1.5],[2022.90,-0.3],[2022.95,-1.5],[2023.00,-3.0],[2023.05,-4.5],[2023.10,-3.0],[2023.15,-1.5],[2023.20,-0.3],[2023.25,-1.5],[2023.30,-3.0],[2023.35,-1.5],[2023.40,-0.3],[2023.45,-2.0],[2023.50,-3.5],[2023.55,-5.0],[2023.60,-3.5],[2023.65,-2.0],[2023.70,-3.5],[2023.75,-5.0],[2023.80,-4.0],[2023.85,-5.5],[2023.90,-6.5],[2023.95,-5.5],[2024.00,-7.0],[2024.04,-7.6],[2024.08,-8.5],[2024.11,-9.6],[2024.14,-8.0],[2024.18,-6.0],[2024.22,-4.0],[2024.26,-2.5],[2024.30,-3.5],[2024.34,-1.5],[2024.38,-0.5],[2024.42,-0.8]];

// ---------- median simulated path ----------
const medianPath = [[2016.00,0],[2016.03,-1.2],[2016.05,-2.1],[2016.08,-1.5],[2016.12,-1.1],[2016.15,-1.6],[2016.18,-1.9],[2016.21,-1.0],[2016.24,-0.1],[2016.27,-0.8],[2016.31,-2.5],[2016.34,-3.7],[2016.37,-5.0],[2016.39,-6.2],[2016.43,-4.7],[2016.46,-5.5],[2016.50,-6.6],[2016.53,-8.0],[2016.56,-9.2],[2016.59,-10.2],[2016.61,-10.0],[2016.64,-9.5],[2016.66,-9.2],[2016.70,-8.5],[2016.72,-9.0],[2016.74,-9.6],[2016.77,-7.6],[2016.80,-8.3],[2016.83,-7.0],[2016.85,-6.4],[2016.86,-10.0],[2016.88,-8.0],[2016.90,-5.6],[2016.93,-1.1],[2016.96,-0.1],[2016.99,-1.5],[2017.01,-3.1],[2017.04,-6.8],[2017.06,-2.0],[2017.08,0],[2017.11,-3.0],[2017.13,-5.2],[2017.17,-5.6],[2017.20,-6.2],[2017.23,-5.0],[2017.26,-4.1],[2017.29,-4.8],[2017.32,-5.8],[2017.36,-6.5],[2017.39,-7.2],[2017.42,-8.0],[2017.45,-9.2],[2017.48,-7.5],[2017.51,-5.6],[2017.53,-2.0],[2017.55,0],[2017.60,-0.5],[2017.65,0],[2017.70,-0.3],[2017.74,-1.8],[2017.77,-3.1],[2017.80,-1.5],[2017.83,-0.5],[2017.87,-1.8],[2017.90,-1.0],[2017.96,0],[2018.02,-0.5],[2018.08,-0.8],[2018.14,-0.7],[2018.18,-0.2],[2018.23,-0.1],[2018.27,-1.2],[2018.31,-1.8],[2018.35,-0.5],[2018.38,0],[2018.42,-0.6],[2018.46,-0.1],[2018.50,-1.5],[2018.54,-2.7],[2018.57,-4.1],[2018.60,-4.7],[2018.63,-4.5],[2018.66,-5.1],[2018.69,-6.2],[2018.72,-7.2],[2018.76,-7.6],[2018.79,-8.0],[2018.82,-9.0],[2018.84,-10.0],[2018.86,-11.4],[2018.88,-10.0],[2018.90,-6.0],[2018.92,-1.5],[2018.95,-0.3],[2018.97,-0.1],[2019.00,-1.0],[2019.03,-1.9],[2019.06,-4.5],[2019.09,-2.0],[2019.12,-0.8],[2019.15,-0.3],[2019.20,-1.2],[2019.25,-2.0],[2019.28,-1.0],[2019.31,-0.2],[2019.37,-1.5],[2019.43,-0.1],[2019.46,-1.5],[2019.49,-2.7],[2019.52,-1.0],[2019.55,-0.3],[2019.61,-1.9],[2019.64,-2.6],[2019.67,-3.5],[2019.71,-2.0],[2019.75,-1.2],[2019.80,-0.6],[2019.86,-0.2],[2019.92,-0.5],[2019.97,-1.8],[2020.02,-2.8],[2020.06,-1.5],[2020.10,-1.9],[2020.13,-4.0],[2020.16,-6.1],[2020.19,-5.2],[2020.22,-5.6],[2020.26,-6.5],[2020.29,-7.2],[2020.32,-8.4],[2020.35,-6.5],[2020.38,-5.5],[2020.41,-5.0],[2020.44,-3.8],[2020.48,-3.0],[2020.52,-1.9],[2020.56,-0.8],[2020.60,-1.2],[2020.64,-1.9],[2020.67,-2.8],[2020.70,-3.5],[2020.74,-2.1],[2020.78,-1.0],[2020.82,-0.2],[2020.88,-0.6],[2020.94,-0.2],[2021.00,-0.8],[2021.06,-0.3],[2021.12,-1.0],[2021.18,-0.3],[2021.24,-0.9],[2021.28,-1.9],[2021.31,-3.5],[2021.34,-5.5],[2021.37,-7.6],[2021.40,-5.5],[2021.44,-3.0],[2021.47,-1.9],[2021.50,-2.5],[2021.53,-3.5],[2021.56,-4.2],[2021.59,-4.9],[2021.62,-3.5],[2021.65,-3.2],[2021.68,-4.5],[2021.71,-5.5],[2021.75,-4.6],[2021.79,-5.5],[2021.83,-6.6],[2021.86,-8.0],[2021.90,-9.6],[2021.93,-11.4],[2021.96,-10.8],[2021.99,-9.6],[2022.02,-8.4],[2022.05,-7.2],[2022.08,-6.5],[2022.11,-5.5],[2022.14,-4.5],[2022.17,-3.5],[2022.20,-2.8],[2022.23,-2.1],[2022.27,-1.5],[2022.30,-2.5],[2022.33,-3.5],[2022.36,-4.5],[2022.40,-6.8],[2022.45,-8.2],[2022.48,-7.2],[2022.51,-6.0],[2022.54,-5.5],[2022.57,-4.3],[2022.60,-4.9],[2022.63,-5.1],[2022.66,-4.2],[2022.69,-3.5],[2022.72,-4.0],[2022.75,-4.5],[2022.78,-4.7],[2022.81,-5.2],[2022.84,-5.9],[2022.87,-5.2],[2022.90,-4.7],[2022.94,-2.5],[2022.97,-1.5],[2023.01,-0.9],[2023.04,-1.5],[2023.07,-2.7],[2023.10,-4.0],[2023.13,-5.1],[2023.16,-6.5],[2023.18,-7.6],[2023.21,-8.6],[2023.24,-10.0],[2023.27,-12.4],[2023.30,-11.8],[2023.32,-11.2],[2023.37,-10.8],[2023.41,-9.6],[2023.44,-7.6],[2023.46,-6.0],[2023.49,-4.5],[2023.53,-4.3],[2023.58,-5.5],[2023.62,-3.5],[2023.67,-2.5],[2023.72,-4.0],[2023.78,-5.5],[2023.81,-3.0],[2023.83,-1.5],[2023.89,-0.3],[2023.95,-1.5],[2024.01,-0.5],[2024.04,-2.0],[2024.07,-3.5],[2024.13,-4.3],[2024.19,-2.1],[2024.25,-0.3],[2024.31,-1.5],[2024.38,-3.5],[2024.42,-2.5]];

// ---------- backtest drawdown ----------
const backtestPath = [[2016.00,0],[2016.02,-2.1],[2016.05,-3.1],[2016.08,-1.6],[2016.12,-0.5],[2016.15,-1.4],[2016.18,-2.3],[2016.21,-1.0],[2016.24,-0.7],[2016.27,-1.6],[2016.31,-1.2],[2016.34,-2.6],[2016.37,-3.7],[2016.40,-4.5],[2016.43,-5.6],[2016.46,-4.8],[2016.50,-4.1],[2016.53,-3.5],[2016.56,-3.1],[2016.60,-4.4],[2016.63,-5.6],[2016.66,-6.4],[2016.69,-8.8],[2016.72,-6.0],[2016.75,-3.1],[2016.78,-1.1],[2016.81,-3.0],[2016.85,-1.5],[2016.88,-0.3],[2016.91,-2.1],[2016.94,-1.0],[2016.97,-0.2],[2017.01,-2.0],[2017.04,-4.1],[2017.07,-6.0],[2017.10,-5.2],[2017.14,-4.0],[2017.17,-3.1],[2017.20,-4.2],[2017.23,-5.2],[2017.26,-5.8],[2017.29,-6.4],[2017.33,-5.5],[2017.36,-4.7],[2017.40,-5.6],[2017.44,-4.8],[2017.48,-4.1],[2017.52,-5.0],[2017.55,-5.8],[2017.58,-6.4],[2017.61,-7.0],[2017.64,-5.0],[2017.67,-3.1],[2017.71,-4.5],[2017.74,-5.6],[2017.77,-5.2],[2017.80,-5.5],[2017.83,-6.0],[2017.86,-2.7],[2017.90,-0.3],[2017.95,0],[2018.00,-1.1],[2018.04,-0.4],[2018.09,-0.1],[2018.12,-1.3],[2018.15,-2.1],[2018.19,-0.7],[2018.23,-2.1],[2018.27,-1.2],[2018.31,-0.5],[2018.36,-2.1],[2018.40,-1.0],[2018.43,-0.3],[2018.47,-1.8],[2018.50,-3.1],[2018.55,-1.1],[2018.60,-1.8],[2018.63,-2.3],[2018.67,-0.7],[2018.72,-1.5],[2018.77,-0.8],[2018.82,-0.3],[2018.88,-1.1],[2018.94,-0.7],[2019.01,0],[2019.07,-1.5],[2019.13,-0.3],[2019.18,-1.0],[2019.23,-1.7],[2019.26,-2.3],[2019.29,-3.1],[2019.33,-3.9],[2019.36,-4.7],[2019.39,-5.8],[2019.42,-6.6],[2019.44,-3.8],[2019.48,-1.1],[2019.52,-2.3],[2019.56,-1.5],[2019.61,-0.9],[2019.64,-1.8],[2019.67,-2.7],[2019.72,-3.1],[2019.76,-2.2],[2019.80,-2.1],[2019.86,-1.7],[2019.93,-0.7],[2019.96,-1.1],[2020.03,-2.1],[2020.08,-0.3],[2020.15,-1.1],[2020.21,-3.5],[2020.26,-5.8],[2020.31,-3.1],[2020.37,-0.7],[2020.43,-1.7],[2020.50,-0.3],[2020.56,-1.5],[2020.63,-2.7],[2020.70,-1.1],[2020.78,-3.1],[2020.85,-4.1],[2020.91,-4.7],[2020.94,-6.2],[2020.97,-7.8],[2021.00,-9.6],[2021.03,-6.2],[2021.07,-3.1],[2021.12,-1.1],[2021.17,-3.1],[2021.23,-6.4],[2021.26,-4.4],[2021.29,-1.1],[2021.35,-0.3],[2021.41,-1.5],[2021.48,-0.3],[2021.54,-2.1],[2021.60,-1.1],[2021.66,-0.7],[2021.73,-1.7],[2021.79,-3.7],[2021.86,-5.2],[2021.92,-4.0],[2021.98,-5.2],[2022.05,-8.0],[2022.09,-9.6],[2022.14,-11.6],[2022.17,-9.0],[2022.21,-5.2],[2022.24,-3.1],[2022.30,-1.5],[2022.37,-2.7],[2022.43,-0.3],[2022.49,-1.9],[2022.55,-3.1],[2022.60,-1.5],[2022.66,-2.5],[2022.72,-3.5],[2022.78,-4.1],[2022.84,-5.1],[2022.90,-5.9],[2022.97,-5.0],[2023.03,-6.2],[2023.07,-7.2],[2023.12,-7.6],[2023.17,-8.6],[2023.21,-10.0],[2023.24,-11.4],[2023.27,-9.8],[2023.30,-8.0],[2023.33,-5.5],[2023.37,-2.5],[2023.40,-1.5],[2023.43,-3.5],[2023.49,-2.5],[2023.55,-0.9],[2023.61,-0.7],[2023.67,-2.5],[2023.73,-3.9],[2023.79,-4.5],[2023.85,-3.5],[2023.92,-6.1],[2023.95,-5.5],[2024.01,-2.5],[2024.07,-3.5],[2024.13,-1.1],[2024.19,-3.5],[2024.25,-5.9],[2024.31,-1.9],[2024.37,-0.7],[2024.42,-0.5]];

// ---------- styling ----------
const tab10 = ['#1f77b4','#ff7f0e','#2ca02c','#d62728','#9467bd','#8c564b','#e377c2','#7f7f7f','#bcbd22','#17becf'];
const FONT = 'DejaVu Sans';
const minus = v => (v < 0 ? '\u2212' + Math.abs(v) : String(v));

const series = [];
faintSeries.forEach((vals, k) => {
  const s = {
    type: 'line', name: 'sample' + k, showSymbol: false, symbol: 'none', silent: true,
    data: vals.map((v, i) => [sampleTimes[i], v]),
    lineStyle: { color: tab10[k % 10], width: 1.7, opacity: 0.22 },
    z: 2, animation: false
  };
  if (k === 0) {
    s.markLine = {
      silent: true, symbol: ['none', 'none'], label: { show: false }, animation: false,
      lineStyle: { type: [1.5, 2], color: '#b4b4b4', width: 0.9, opacity: 1 },
      emphasis: { disabled: true },
      data: yearTicks.map(y => ({ xAxis: y })).concat(ddTicks.map(v => ({ yAxis: v })))
    };
  }
  series.push(s);
});
const worst = [worstBlue, worstOrange, worstGreen, worstRed, worstPurple];
worst.forEach((pts, k) => {
  series.push({
    type: 'line', name: 'worst' + k, showSymbol: false, symbol: 'none', silent: true,
    data: pts, lineStyle: { color: tab10[k], width: 2.5, opacity: 0.9 }, z: 3, animation: false
  });
});
series.push({
  type: 'line', name: '50% (median sim)', showSymbol: false, symbol: 'none', silent: true,
  data: medianPath, lineStyle: { color: '#000000', width: 4 }, itemStyle: { color: '#000000' }, z: 4, animation: false
});
series.push({
  type: 'line', name: 'Backtest DD', showSymbol: false, symbol: 'none', silent: true,
  data: backtestPath, lineStyle: { color: '#0a14ff', width: 3.5, type: [12, 5] }, itemStyle: { color: '#0a14ff' }, z: 5, animation: false
});

const chart = echarts.init(document.getElementById('chart'), null, { renderer: 'canvas' });
chart.setOption({
  backgroundColor: '#ffffff',
  animation: false,
  textStyle: { fontFamily: FONT },
  title: {
    text: 'PORT Monte Carlo Drawdowns (100 samples) | worst5 + median | N=100 | BLOCK=5',
    left: 566, top: 7, padding: 0, textAlign: 'center',
    textStyle: { fontFamily: FONT, fontSize: 15, fontWeight: 'normal', color: '#000' }
  },
  grid: { left: 63, right: 8, top: 26.7, bottom: 31.3, show: true, borderColor: '#000', borderWidth: 1, backgroundColor: 'transparent' },
  legend: {
    data: [
      { name: '50% (median sim)', icon: 'path://M0,0h29v4h-29z' },
      { name: 'Backtest DD', icon: 'path://M0,0h14v4h-14z M19.5,0h6v4h-6z M28.5,0h0.5v4h-0.5z' }
    ],
    orient: 'vertical', left: 69, top: 455,
    itemWidth: 29, itemHeight: 4, itemGap: 5,
    padding: [3, 7, 5, 2],
    backgroundColor: 'rgba(255,255,255,0.85)', borderColor: '#d0d0d0', borderWidth: 1, borderRadius: 3,
    textStyle: { fontFamily: FONT, fontSize: 12.5, color: '#000', padding: [0, 0, 0, 4] },
    selectedMode: false
  },
  xAxis: {
    type: 'value', min: 2015.588, max: 2024.849,
    axisLine: { show: true, lineStyle: { color: '#000', width: 1 } },
    axisTick: { show: true, length: 4, lineStyle: { color: '#000' }, customValues: yearTicks },
    axisLabel: { customValues: yearTicks, formatter: v => String(Math.round(v)), margin: 9, fontFamily: FONT, fontSize: 12.5, color: '#000' },
    splitLine: { show: false }
  },
  yAxis: {
    type: 'value', min: -27.49, max: 1.307,
    name: 'Drawdown (%)', nameLocation: 'middle', nameGap: 46,
    nameTextStyle: { fontFamily: FONT, fontSize: 12.5, color: '#000' },
    axisLine: { show: true, lineStyle: { color: '#000', width: 1 } },
    axisTick: { show: true, length: 4, lineStyle: { color: '#000' }, customValues: ddTicks },
    axisLabel: { customValues: ddTicks, formatter: v => minus(Math.round(v)), margin: 9, fontFamily: FONT, fontSize: 12.5, color: '#000' },
    splitLine: { show: false }
  },
  series: series
});
</script>
</body>
</html>
